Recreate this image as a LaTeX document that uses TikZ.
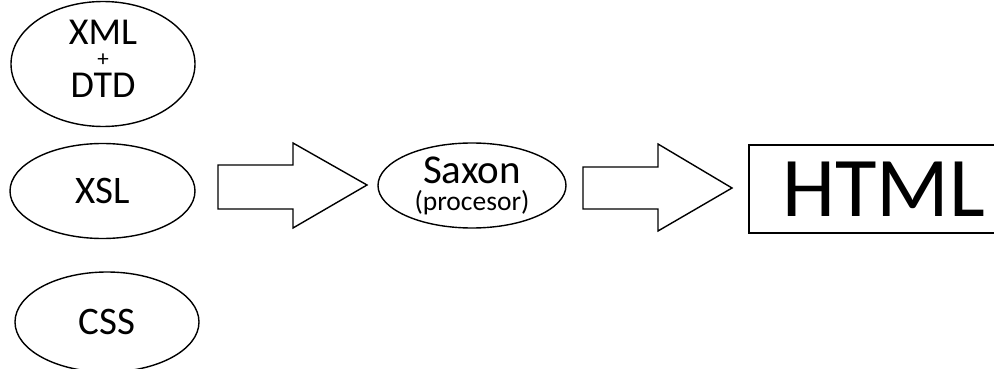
\documentclass[tikz,border=0pt]{standalone}
\usepackage{fontspec}
\setmainfont{Carlito}
\usetikzlibrary{shapes.geometric}
\newcommand\mytightlines{\lineskiplimit=-1000pt\relax}
\begin{document}
\begin{tikzpicture}[x=1pt,y=-1pt,
  oval/.style={draw,ellipse,line width=1.4pt,inner sep=0pt,align=center},
  blockarrow/.style={draw,line width=1.4pt,line join=miter}]
\useasboundingbox (0,0) rectangle (994,369);
\node[oval,minimum width=184pt,minimum height=102pt,font={\fontsize{38}{19}\selectfont\mytightlines}] (xml) at (103,64) {XML\\[3pt]{\fontsize{23}{19}\selectfont +}\\[12pt]DTD\rule[-11pt]{0pt}{0pt}};
\node[oval,minimum width=185pt,minimum height=95pt,font=\fontsize{39}{40}\selectfont] (xsl) at (102.5,191) {XSL};
\node[oval,minimum width=184pt,minimum height=100pt,font=\fontsize{39}{40}\selectfont] (css) at (107,322) {CSS};
\node[oval,minimum width=188pt,minimum height=85pt,font={\fontsize{41}{27}\selectfont\mytightlines}] (saxon) at (472,185.5) {Saxon\\{\fontsize{27.5}{27}\selectfont (procesor)}};
\node[draw,rectangle,line width=1.4pt,minimum width=270pt,minimum height=88pt,inner sep=0pt,font=\fontsize{85}{85}\selectfont] (html) at (884,189) {HTML};
\draw[blockarrow] (218,165) -- (293,165) -- (293,143) -- (367,185) -- (293,228) -- (293,209) -- (218,209) -- cycle;
\draw[blockarrow] (583,167) -- (658,167) -- (658,144) -- (732,188) -- (658,231) -- (658,209) -- (583,209) -- cycle;
\end{tikzpicture}
\end{document}
